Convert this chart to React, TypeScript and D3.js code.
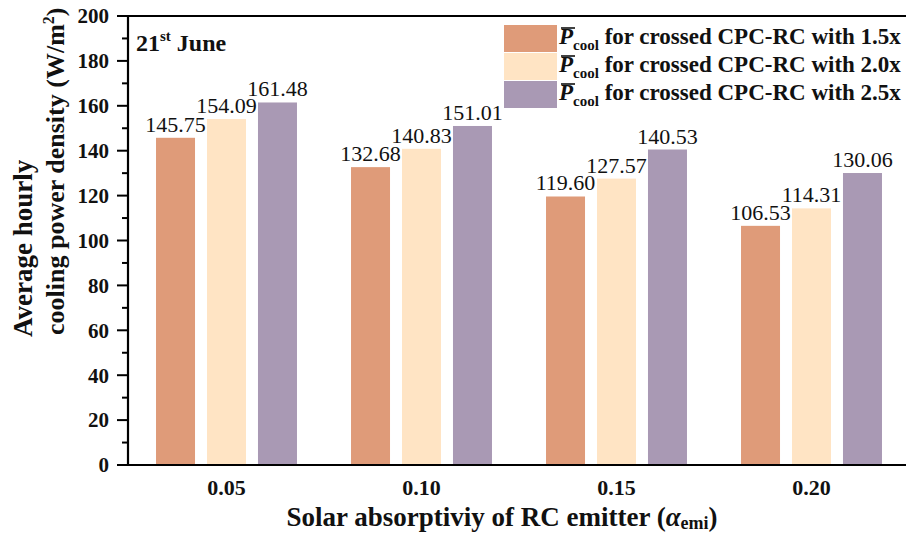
import React from 'react';
import * as d3 from 'd3';

const categories = ['0.05', '0.10', '0.15', '0.20'];
const seriesKeys = ['1.5x', '2.0x', '2.5x'];
const values15 = [145.75, 132.68, 119.6, 106.53];
const values20 = [154.09, 140.83, 127.57, 114.31];
const values25 = [161.48, 151.01, 140.53, 130.06];
const seriesValues = [values15, values20, values25];
const yTicks = [0, 20, 40, 60, 80, 100, 120, 140, 160, 180, 200];
const yMinorTicks = [10, 30, 50, 70, 90, 110, 130, 150, 170, 190];
const colors = ['#DF9B79', '#FFE4C4', '#A999B4'];
const legendLabels = ['for crossed CPC-RC with 1.5x', 'for crossed CPC-RC with 2.0x', 'for crossed CPC-RC with 2.5x'];

const FONT = '"Liberation Serif", "Times New Roman", serif';

export default function App() {
  const W = 906, H = 533;
  const left = 128, top = 16, bottom = 465, right = 906;
  const y = d3.scaleLinear().domain([0, 200]).range([bottom, top]);
  const x0 = d3.scaleBand().domain(categories).range([left + 1, left + 1 + 780]).padding(0);
  const x1 = d3.scaleBand().domain(seriesKeys).range([0, x0.bandwidth()]).paddingInner(0.235).paddingOuter(0.53);

  const legX = 504, legY = 25, legRow = 28, legSw = 53;

  return (
    <svg width={W} height={H} style={{ position: 'absolute', left: 0, top: 0, background: '#fff' }} fontFamily={FONT}>
      <rect x={0} y={0} width={W} height={H} fill="#fff" />
      {/* bars */}
      {categories.map((c, ci) => (
        <g key={c} transform={`translate(${x0(c)},0)`}>
          {seriesKeys.map((s, si) => {
            const v = seriesValues[si][ci];
            const bx = x1(s)!;
            return (
              <g key={s}>
                <rect x={bx} y={y(v)} width={x1.bandwidth()} height={y(0) - y(v)} fill={colors[si]} />
                <text x={bx + x1.bandwidth() / 2} y={y(v) - 6} textAnchor="middle" fontSize={22} fill="#111">
                  {v.toFixed(2)}
                </text>
              </g>
            );
          })}
        </g>
      ))}
      {/* frame */}
      <line x1={left - 10} x2={right} y1={top} y2={top} stroke="#000" strokeWidth={2.2} />
      <line x1={left - 11} x2={right} y1={bottom} y2={bottom} stroke="#000" strokeWidth={2.2} />
      <line x1={left} x2={left} y1={top} y2={bottom} stroke="#000" strokeWidth={2.2} />
      {yTicks.map(t => (
        <g key={t}>
          <line x1={left - 11} x2={left} y1={y(t)} y2={y(t)} stroke="#000" strokeWidth={2} />
          <text x={109} y={y(t)} dy="0.35em" textAnchor="end" fontSize={21} fontWeight="bold" fill="#111">{t}</text>
        </g>
      ))}
      {yMinorTicks.map(t => (
        <line key={t} x1={left - 6} x2={left} y1={y(t)} y2={y(t)} stroke="#000" strokeWidth={2} />
      ))}
      {/* x tick labels */}
      {categories.map(c => (
        <text key={c} x={x0(c)! + x0.bandwidth() / 2} y={495} textAnchor="middle" fontSize={22} fontWeight="bold" fill="#111">{c}</text>
      ))}
      {/* x title */}
      <text x={502} y={526} textAnchor="middle" fontSize={27} fontWeight="bold" fill="#111">
        Solar absorptiviy of RC emitter (<tspan fontStyle="italic">α</tspan>
        <tspan fontSize={18} dy={3}>emi</tspan>
        <tspan dy={-3}>)</tspan>
      </text>
      {/* y title */}
      <text transform="translate(32,337) rotate(-90)" fontSize={27} fontWeight="bold" fill="#111">Average hourly</text>
      <text transform="translate(64,335) rotate(-90)" fontSize={26} fontWeight="bold" fill="#111">
        cooling power density (W/m<tspan fontSize={16} dy={-10}>2</tspan><tspan dy={10}>)</tspan>
      </text>
      {/* date label */}
      <text x={136} y={51} fontSize={24} fontWeight="bold" fill="#111">
        21<tspan fontSize={15} dy={-10}>st</tspan><tspan dy={10}> June</tspan>
      </text>
      {/* legend */}
      {legendLabels.map((lab, i) => (
        <g key={lab}>
          <rect x={legX} y={legY + i * legRow} width={legSw} height={legRow - 1} fill={colors[i]} />
          <line x1={legX + 57} x2={legX + 71} y1={legY + i * legRow + 3} y2={legY + i * legRow + 3} stroke="#111" strokeWidth={1.6} />
          <text x={legX + 55} y={legY + i * legRow + 19} fontSize={23} fontWeight="bold" fill="#111">
            <tspan fontStyle="italic">P</tspan>
            <tspan fontSize={15} dy={6}>cool</tspan>
            <tspan dy={-6}> {lab}</tspan>
          </text>
        </g>
      ))}
    </svg>
  );
}
